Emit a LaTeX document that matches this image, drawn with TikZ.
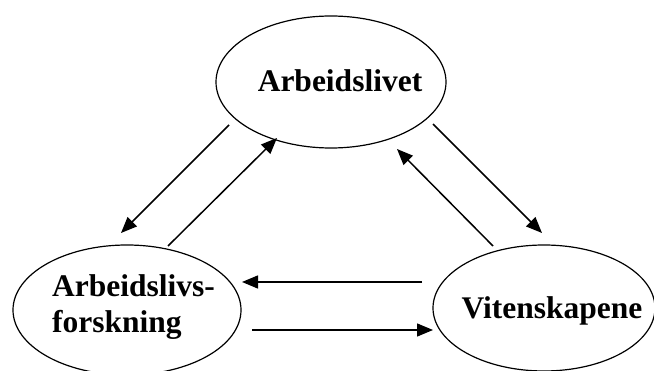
\documentclass[tikz,border=0pt]{standalone}
\usepackage{fontspec}
\setmainfont{Liberation Serif}
\usetikzlibrary{arrows.meta,shapes.geometric}
\begin{document}
\begin{tikzpicture}[x=1pt,y=-1pt,
  oval/.style={draw,ellipse,line width=1.2pt,inner sep=0pt},
  lbl/.style={font=\fontsize{31.5}{36}\selectfont\bfseries,inner sep=0pt,anchor=base},
  conn/.style={line width=1.5pt,-{Triangle[length=16pt,width=13pt]}}]
\useasboundingbox (0,0) rectangle (654,371);
\node[oval,minimum width=230pt,minimum height=132pt] (top) at (331,82) {};
\node[oval,minimum width=228pt,minimum height=130pt] (left) at (127,310) {};
\node[oval,minimum width=222pt,minimum height=126pt] (right) at (544,308) {};
\node[lbl] (ttop) at (340,92) {Arbeidslivet};
\node[lbl,anchor=base west] (tl1) at (52,297) {Arbeidslivs-};
\node[lbl,anchor=base west] (tl2) at (52,333) {forskning};
\node[lbl] (tright) at (552,319) {Vitenskapene};
\coordinate (a1s) at (229,125); \coordinate (a1e) at (121,233);
\coordinate (a2s) at (168,246); \coordinate (a2e) at (277,138);
\coordinate (a3s) at (433,124); \coordinate (a3e) at (542,233);
\coordinate (a4s) at (493,246); \coordinate (a4e) at (397,149);
\coordinate (a5s) at (422,282); \coordinate (a5e) at (242,282);
\coordinate (a6s) at (252,330); \coordinate (a6e) at (433,330);
\draw[conn] (a1s) -- (a1e);
\draw[conn] (a2s) -- (a2e);
\draw[conn] (a3s) -- (a3e);
\draw[conn] (a4s) -- (a4e);
\draw[conn] (a5s) -- (a5e);
\draw[conn] (a6s) -- (a6e);
\end{tikzpicture}
\end{document}
